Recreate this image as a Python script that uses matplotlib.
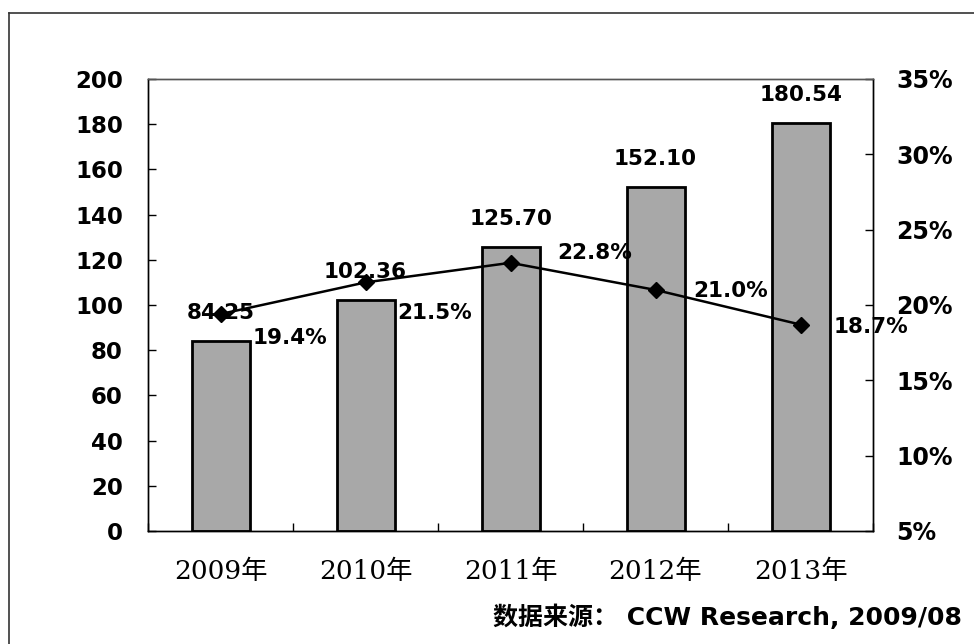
import matplotlib
matplotlib.use("Agg")
import matplotlib.pyplot as plt
from matplotlib.lines import Line2D

plt.rcParams['font.family'] = ['DejaVu Sans', 'Noto Sans CJK SC']

# ---- data ----
years = ["2009年", "2010年", "2011年", "2012年", "2013年"]
market_size = [84.25, 102.36, 125.70, 152.10, 180.54]
growth_rate = [19.4, 21.5, 22.8, 21.0, 18.7]
left_ticks = [0, 20, 40, 60, 80, 100, 120, 140, 160, 180, 200]
right_ticks = [5, 10, 15, 20, 25, 30, 35]
source_text = "数据来源： CCW Research, 2009/08"

# label offsets (points) for percent labels: style only
pct_offsets = [(23, -17), (23, -22), (34, 7), (27, -1), (24, -2)]

W, H, DPI = 974, 644, 100
fig = plt.figure(figsize=(W / DPI, H / DPI), dpi=DPI)
fig.patch.set_facecolor('white')

L, R, T, B = 148, 873, 79, 531
ax = fig.add_axes([L / W, 1 - B / H, (R - L) / W, (B - T) / H])
ax2 = ax.twinx()

x = list(range(len(years)))
ax.bar(x, market_size, width=0.4, color='#a8a8a8', edgecolor='black',
       linewidth=2.0, zorder=2)
ax.set_xlim(-0.5, len(years) - 0.5)
ax.set_ylim(0, 200)
ax.set_yticks(left_ticks)
ax.set_yticklabels([str(v) for v in left_ticks])
ax.tick_params(axis='y', direction='in', length=6, width=1, pad=18,
               labelsize=16.5)
for lab in ax.get_yticklabels():
    lab.set_fontweight('bold')

ax.set_xticks(x)
ax.set_xticklabels(years, fontsize=19,
                   family=['DejaVu Serif', 'Noto Sans CJK SC'])
ax.tick_params(axis='x', which='major', length=0, pad=20)
ax.set_xticks([i - 0.5 for i in range(len(years) + 1)], minor=True)
ax.tick_params(axis='x', which='minor', direction='in', length=6, width=1)

for xi, v in zip(x, market_size):
    ax.annotate(f"{v:.2f}", (xi, v), xytext=(0, 20), textcoords='offset points',
                ha='center', va='center', fontsize=15.5, fontweight='bold',
                zorder=5)

ax2.plot(x, growth_rate, color='black', linewidth=1.8, marker='D',
         markersize=8, markerfacecolor='black', zorder=4)
ax2.set_ylim(5, 35)
ax2.set_yticks(right_ticks)
ax2.set_yticklabels([f"{v}%" for v in right_ticks])
ax2.tick_params(axis='y', direction='in', length=6, width=1, pad=17,
                labelsize=17)
for lab in ax2.get_yticklabels():
    lab.set_fontweight('bold')

for xi, v, off in zip(x, growth_rate, pct_offsets):
    ax2.annotate(f"{v:.1f}%", (xi, v), xytext=off, textcoords='offset points',
                 ha='left', va='center', fontsize=15.5, fontweight='bold',
                 zorder=6)

for a in (ax, ax2):
    for s in a.spines.values():
        s.set_color('black')
        s.set_linewidth(1.0)
ax.spines['top'].set_color('#555555')
ax2.spines['top'].set_color('#555555')

# outer frame (left and top edges visible)
fig.add_artist(Line2D([9 / W, 1.0], [1 - 13 / H, 1 - 13 / H],
                      transform=fig.transFigure, color='#333333', linewidth=1.2))
fig.add_artist(Line2D([9 / W, 9 / W], [0.0, 1 - 13 / H],
                      transform=fig.transFigure, color='#333333', linewidth=1.2))

fig.text(962 / W, 1 - 617 / H, source_text, ha='right', va='center',
         fontsize=18, fontweight='bold')

fig.savefig('out.png', dpi=DPI, facecolor='white')
